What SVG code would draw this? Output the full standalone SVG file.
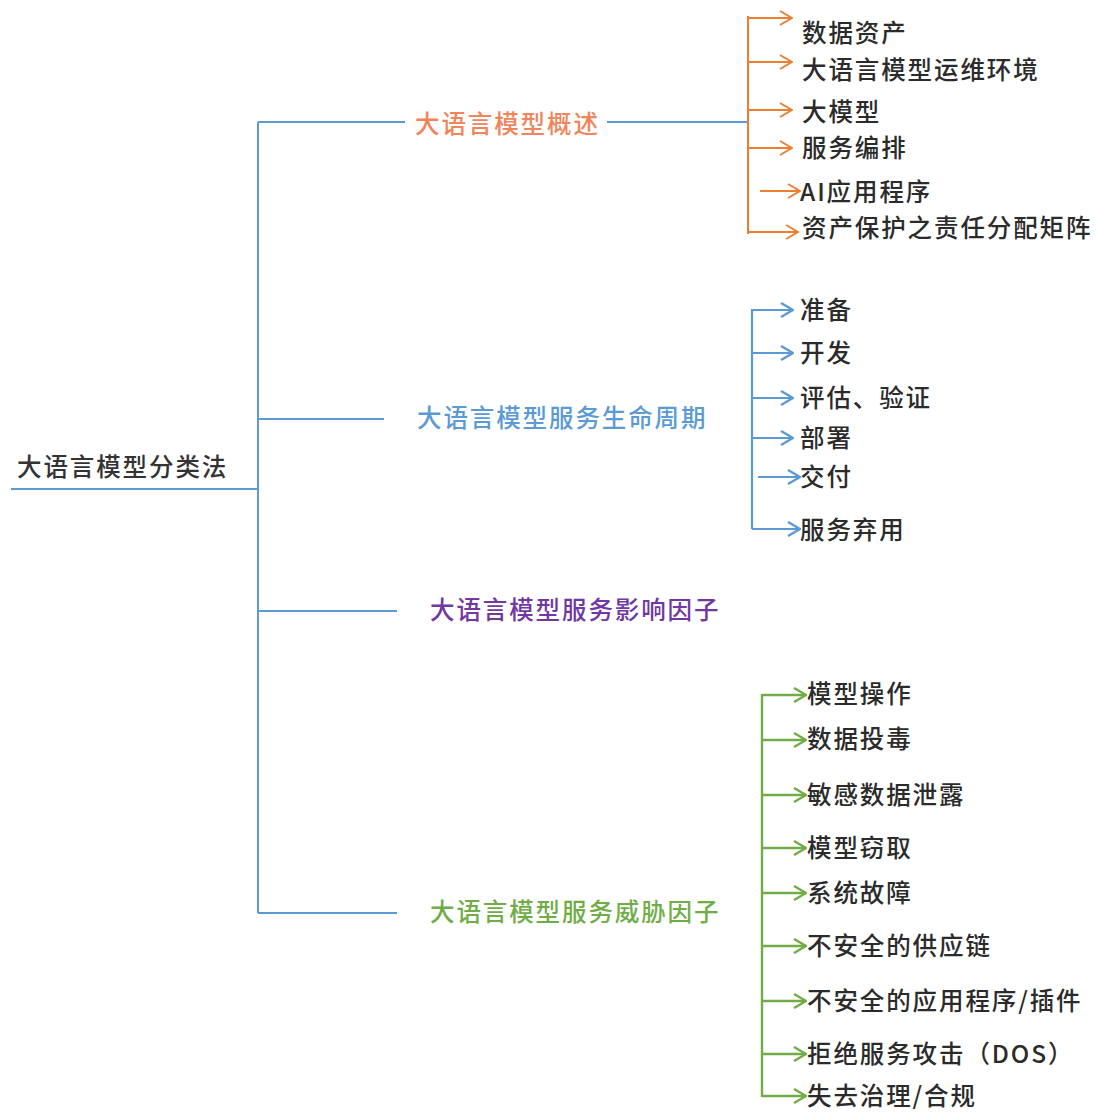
<svg xmlns="http://www.w3.org/2000/svg" width="1096" height="1112" viewBox="0 0 1096 1112">
<style>
text{font-family:"Noto Sans CJK SC","Noto Sans",sans-serif;font-size:24.5px;font-weight:500;letter-spacing:1.9px}
.root{fill:#333}
.leaf{fill:#2b2b2b}
.t-or{fill:#f0845a}
.t-bl{fill:#5b9bd5}
.t-pu{fill:#7038a0}
.t-gr{fill:#70ad47}
.l-main{stroke:#5b9bd5;stroke-width:2;fill:none}
.l-or{stroke:#ed7d31;stroke-width:2;fill:none}
.l-bl{stroke:#5b9bd5;stroke-width:2.2;fill:none}
.l-gr{stroke:#70ad47;stroke-width:2.4;fill:none}
</style>
<defs>
<marker id="a-or" viewBox="0 0 14 16" refX="13" refY="8" markerWidth="14" markerHeight="16" markerUnits="userSpaceOnUse" orient="auto"><path d="M1,1 L13,8 L1,15" fill="none" stroke="#ed7d31" stroke-width="2"/></marker>
<marker id="a-bl" viewBox="0 0 14 16" refX="13" refY="8" markerWidth="14" markerHeight="16" markerUnits="userSpaceOnUse" orient="auto"><path d="M1,1 L13,8 L1,15" fill="none" stroke="#5b9bd5" stroke-width="2.4"/></marker>
<marker id="a-gr" viewBox="0 0 14 16" refX="13" refY="8" markerWidth="14" markerHeight="16" markerUnits="userSpaceOnUse" orient="auto"><path d="M1,1 L13,8 L1,15" fill="none" stroke="#70ad47" stroke-width="2.4"/></marker>
</defs>
<rect width="1096" height="1112" fill="#fff"/>
<g id="connectors">
<path class="l-main" d="M11,489 H258 M258,122 V913 M258,122 H405 M607,122 H748 M258,419 H384 M258,611 H397 M258,913 H397"/>
<path class="l-or" d="M748,16 V234"/>
<g class="l-or" marker-end="url(#a-or)">
<path d="M748,18 H792"/><path d="M748,62 H792"/><path d="M748,110 H792"/><path d="M748,148 H792"/><path d="M760,191 H800"/><path d="M748,232 H798"/>
</g>
<path class="l-bl" d="M752,309 V529"/>
<g class="l-bl" marker-end="url(#a-bl)">
<path d="M752,310 H793"/><path d="M752,353 H793"/><path d="M752,398 H793"/><path d="M752,438 H793"/><path d="M758,477 H800"/><path d="M752,529 H800"/>
</g>
<path class="l-gr" d="M762,694 V1097"/>
<g class="l-gr" marker-end="url(#a-gr)">
<path d="M762,695 H806"/><path d="M762,740 H806"/><path d="M762,795 H806"/><path d="M762,848 H806"/><path d="M762,893 H806"/><path d="M762,946 H806"/><path d="M762,1001 H806"/><path d="M762,1054 H806"/><path d="M762,1096 H806"/>
</g>
</g>
<g id="root"><text class="root" x="17" y="476">大语言模型分类法</text></g>
<g id="overview"><text class="t-or" x="415" y="133">大语言模型概述</text></g>
<g id="lifecycle"><text class="t-bl" x="417" y="427">大语言模型服务生命周期</text></g>
<g id="impact"><text class="t-pu" x="430" y="619">大语言模型服务影响因子</text></g>
<g id="threat"><text class="t-gr" x="430" y="921">大语言模型服务威胁因子</text></g>
<g id="o1"><text class="leaf" x="802" y="42">数据资产</text></g>
<g id="o2"><text class="leaf" x="802" y="79">大语言模型运维环境</text></g>
<g id="o3"><text class="leaf" x="802" y="121">大模型</text></g>
<g id="o4"><text class="leaf" x="802" y="157">服务编排</text></g>
<g id="o5"><text class="leaf" x="800" y="201">AI应用程序</text></g>
<g id="o6"><text class="leaf" x="802" y="237">资产保护之责任分配矩阵</text></g>
<g id="b1"><text class="leaf" x="800" y="319">准备</text></g>
<g id="b2"><text class="leaf" x="800" y="362">开发</text></g>
<g id="b3"><text class="leaf" x="800" y="407">评估、验证</text></g>
<g id="b4"><text class="leaf" x="800" y="447">部署</text></g>
<g id="b5"><text class="leaf" x="800" y="486">交付</text></g>
<g id="b6"><text class="leaf" x="800" y="539">服务弃用</text></g>
<g id="g1"><text class="leaf" x="807" y="703">模型操作</text></g>
<g id="g2"><text class="leaf" x="807" y="748">数据投毒</text></g>
<g id="g3"><text class="leaf" x="807" y="804">敏感数据泄露</text></g>
<g id="g4"><text class="leaf" x="807" y="857">模型窃取</text></g>
<g id="g5"><text class="leaf" x="807" y="902">系统故障</text></g>
<g id="g6"><text class="leaf" x="807" y="955">不安全的供应链</text></g>
<g id="g7"><text class="leaf" x="807" y="1010">不安全的应用程序/插件</text></g>
<g id="g8"><text class="leaf" x="807" y="1063">拒绝服务攻击（DOS）</text></g>
<g id="g9"><text class="leaf" x="807" y="1105">失去治理/合规</text></g>
</svg>
